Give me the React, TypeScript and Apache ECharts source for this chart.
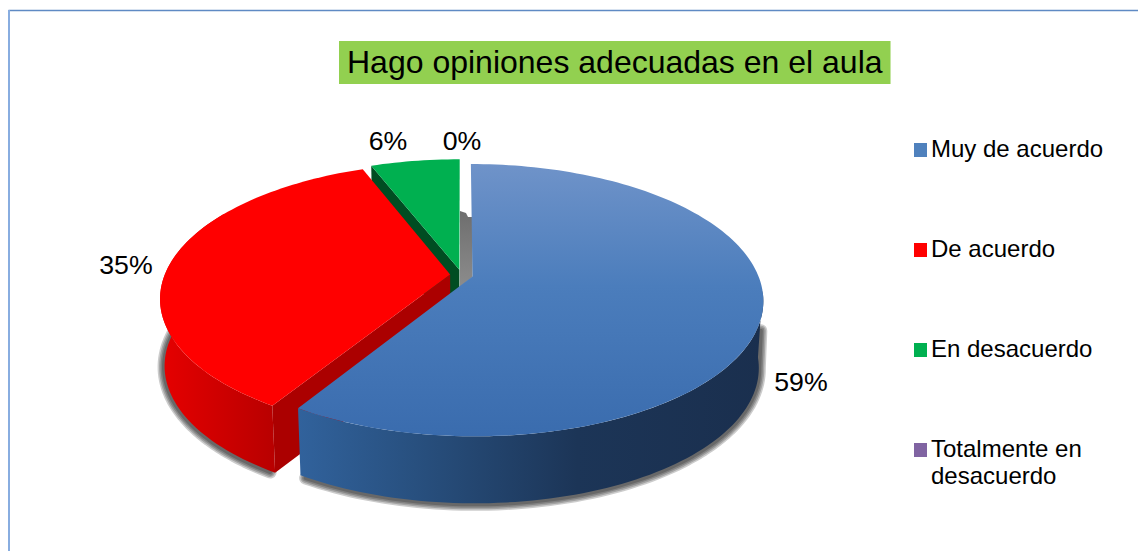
import React, { useEffect, useRef } from "react";
import * as echarts from "echarts";

const categories = ["Muy de acuerdo", "De acuerdo", "En desacuerdo", "Totalmente en desacuerdo"];
const legendLines = [["Muy de acuerdo"], ["De acuerdo"], ["En desacuerdo"], ["Totalmente en", "desacuerdo"]];
const percentages = [58.8, 35.3, 5.9, 0];
const titleText = "Hago opiniones adecuadas en el aula";

const FONT = '"Liberation Sans", Arial, sans-serif';
const CX = 461.5, CY = 275, RX = 285.5, RY = 131.5, K = 0.174, EXPLODE = 0.04, DEPTH = 67, BOTTOM_SCALE = 0.985;
const labelAnchors = [[801, 381.5], [126, 264.5], [388, 141], [462, 141]];
const legendRowY = [150, 250, 350, 450];
const legendSwatch = ["#4f81bd", "#ff0000", "#00b050", "#8064a2"];

const lg = (x: number, y: number, x2: number, y2: number, stops: [number, string][]) =>
  new echarts.graphic.LinearGradient(x, y, x2, y2, stops.map(([offset, color]) => ({ offset, color })));

const rad = (d: number) => (d * Math.PI) / 180;
const project = (X: number, Y: number, lower = false): number[] => {
  const w = 1 + K * Y;
  const px = (RX * X) / w;
  const py = (-RY * Y) / w;
  return lower ? [CX + px * BOTTOM_SCALE, CY + py + DEPTH] : [CX + px, CY + py];
};

// Slice angles, clockwise from 12 o'clock
const slices = (() => {
  let acc = 0;
  return percentages.map((p) => {
    const start = (acc / 100) * 360;
    acc += p;
    const end = (acc / 100) * 360;
    const mid = rad((start + end) / 2);
    return { start, end, ox: EXPLODE * Math.sin(mid), oy: EXPLODE * Math.cos(mid) };
  });
})();

const rim = (i: number, a: number, b: number, lower = false) => {
  const s = slices[i];
  const pts: number[][] = [];
  const n = Math.max(2, Math.ceil(Math.abs(b - a) / 1.5));
  for (let j = 0; j <= n; j++) {
    const t = rad(a + ((b - a) * j) / n);
    pts.push(project(s.ox + Math.sin(t), s.oy + Math.cos(t), lower));
  }
  return pts;
};
const apex = (i: number, lower = false) => project(slices[i].ox, slices[i].oy, lower);
const wall = (i: number, a: number, b: number) => [...rim(i, a, b), ...rim(i, a, b, true).reverse()];
const topFace = (i: number) => [apex(i), ...rim(i, slices[i].start, slices[i].end)];
const cutFace = (i: number, angle: number) => {
  const t = rad(angle);
  const s = slices[i];
  const X = s.ox + Math.sin(t), Y = s.oy + Math.cos(t);
  return [apex(i), project(X, Y), project(X, Y, true), apex(i, true)];
};
const poly = (points: number[][], fill: any, extra: any = {}) => ({
  type: "polygon",
  shape: { points },
  style: { fill, ...extra },
});
const label = (i: number) => ({
  type: "text",
  style: {
    text: `${Math.round(percentages[i])}%`,
    x: labelAnchors[i][0],
    y: labelAnchors[i][1],
    fill: "#000",
    fontSize: 26.7,
    fontFamily: FONT,
    align: "center",
    verticalAlign: "middle",
  },
});

const BLUE_FRONT_START = 96;
const RED_FRONT_END = 300;
const SHADOW_WIDTHS = [13, 10, 7, 4];

// Soft shadow built from stacked translucent strokes along the lower rim of a wall
const silhouettePoint = (i: number, angle: number) => {
  const top = rim(i, angle, angle + 1)[0];
  const low = rim(i, angle, angle + 1, true)[0];
  return [top[0] + (low[0] - top[0]) * 0.55, top[1] + (low[1] - top[1]) * 0.55];
};
const softShadow = (points: number[][], dx: number, dy: number) =>
  SHADOW_WIDTHS.map((lineWidth) => ({
    type: "polyline",
    x: dx,
    y: dy,
    shape: { points },
    style: { fill: "none", stroke: "rgba(0,0,0,0.2)", lineWidth, lineJoin: "round", lineCap: "round" },
  }));

const renderers: ((...a: any[]) => any)[] = [
  // Muy de acuerdo
  () => ({
    type: "group",
    children: [
      poly(
        wall(0, BLUE_FRONT_START, slices[0].end),
        lg(1, 0, 0, 0, [
          [0, "#1a2f4e"],
          [0.4, "#1c3557"],
          [0.75, "#28507f"],
          [1, "#31629c"],
        ])
      ),
      poly(
        topFace(0),
        lg(0, 0, 0, 1, [
          [0, "#6f93c9"],
          [0.45, "#4b7dbc"],
          [1, "#3a6cae"],
        ])
      ),
      label(0),
    ],
  }),
  // De acuerdo
  () => ({
    type: "group",
    children: [
      poly(
        wall(1, slices[1].start, RED_FRONT_END),
        lg(1, 0, 0, 0, [
          [0, "#b80000"],
          [1, "#e60000"],
        ])
      ),
      poly(cutFace(1, slices[1].start), "#ab0000"),
      poly(topFace(1), "#ff0000"),
      label(1),
    ],
  }),
  // En desacuerdo
  () => ({
    type: "group",
    children: [poly(cutFace(2, slices[2].start), "#004d22"), poly(topFace(2), "#00b050"), label(2)],
  }),
  // Totalmente en desacuerdo: zero-width slice, only the inner wall shows
  () => ({
    type: "group",
    children: [
      poly(
        [
          [460, 211],
          [466, 213],
          [468, 217],
          [472.5, 217],
          [472.5, 277],
          [460, 287],
        ],
        lg(0, 0, 0, 1, [
          [0, "#6e6e6e"],
          [1, "#8c8c8c"],
        ])
      ),
      label(3),
    ],
  }),
];

export default function App() {
  const ref = useRef<HTMLDivElement>(null);
  useEffect(() => {
    const chart = echarts.init(ref.current!, undefined, { renderer: "svg" });
    const drawOrder = [3, 2, 1, 0];
    chart.setOption({
      animation: false,
      backgroundColor: "#ffffff",
      title: {
        text: titleText,
        left: 339,
        top: 41,
        padding: [5, 8, 6, 8],
        backgroundColor: "#92d050",
        textStyle: { fontFamily: FONT, fontSize: 32, fontWeight: "normal", color: "#000", lineHeight: 32 },
      },
      series: [
        {
          type: "custom",
          name: "sombra",
          coordinateSystem: "none",
          silent: true,
          z: 1,
          data: [[0]],
          renderItem: () => ({
            type: "group",
            children: [
              ...softShadow([silhouettePoint(0, 97), ...rim(0, 100, slices[0].end - 1, true)], 0.5, 1),
              ...softShadow([...rim(1, slices[1].start + 1, 278, true), silhouettePoint(1, 283)], -0.5, 1),
            ],
          }),
        },
        ...drawOrder.map((i, k) => ({
          type: "custom",
          name: categories[i],
          coordinateSystem: "none",
          silent: true,
          z: 2 + k,
          data: [[percentages[i]]],
          renderItem: renderers[i],
        })),
      ],
      graphic: [
        {
          type: "line",
          silent: true,
          shape: { x1: 8.5, y1: 10.5, x2: 1138, y2: 10.5 },
          style: { stroke: "#5f8ac4", lineWidth: 1.5 },
        },
        {
          type: "line",
          silent: true,
          shape: { x1: 9, y1: 10, x2: 9, y2: 551 },
          style: { stroke: "#88ade0", lineWidth: 2 },
        },
        ...categories.flatMap((_, i) => [
          {
            type: "rect",
            silent: true,
            shape: { x: 914, y: legendRowY[i] - 7, width: 13, height: 14 },
            style: { fill: legendSwatch[i] },
          },
          ...legendLines[i].map((line, j) => ({
            type: "text",
            silent: true,
            style: {
              text: line,
              x: 931,
              y: legendRowY[i] - 2 + j * 27,
              fill: "#000",
              fontSize: 24,
              fontFamily: FONT,
              align: "left",
              verticalAlign: "middle",
            },
          })),
        ]),
      ],
    });
    return () => chart.dispose();
  }, []);
  return <div ref={ref} style={{ position: "fixed", left: 0, top: 0, width: 1138, height: 551 }} />;
}
